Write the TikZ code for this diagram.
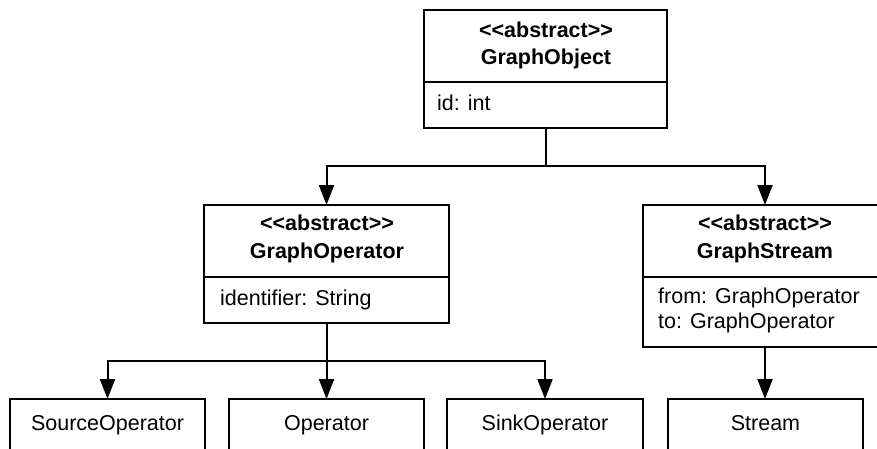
\documentclass[tikz,border=0pt]{standalone}
\usepackage{fontspec}
\setmainfont{Liberation Sans}
\usetikzlibrary{arrows.meta}
\begin{document}
\begin{tikzpicture}[x=1pt,y=-1pt,
  umlbox/.style={draw, line width=2.2pt, inner sep=0pt, outer sep=0pt, anchor=north west},
  divider/.style={line width=2.2pt},
  title/.style={anchor=base, inner sep=0pt, font=\bfseries\fontsize{21.5}{27}\selectfont},
  attr/.style={anchor=base west, inner sep=0pt, font=\fontsize{21.5}{27}\selectfont},
  label/.style={anchor=base, inner sep=0pt, font=\fontsize{21.5}{27}\selectfont},
  inherit/.style={line width=2pt, -{Triangle[length=20pt,width=15pt]}}]
\clip (0,0) rectangle (877,448);

% class boxes
\node[umlbox, minimum width=243pt, minimum height=118pt] (obj) at (424,10) {};
\node[umlbox, minimum width=245pt, minimum height=118pt] (gop) at (204,205) {};
\node[umlbox, minimum width=244pt, minimum height=142pt] (gst) at (643,205) {};
\node[umlbox, minimum width=195pt, minimum height=70pt] (src) at (10,399) {};
\node[umlbox, minimum width=195pt, minimum height=70pt] (op) at (229,399) {};
\node[umlbox, minimum width=196pt, minimum height=70pt] (sink) at (447,399) {};
\node[umlbox, minimum width=195pt, minimum height=70pt] (stream) at (668,399) {};

% compartment dividers
\draw[divider] (obj.west |- 0,82) -- (obj.east |- 0,82);
\draw[divider] (gop.west |- 0,277) -- (gop.east |- 0,277);
\draw[divider] (gst.west |- 0,277) -- (gst.east |- 0,277);

% class names and stereotypes
\node[title] (objst) at (546,37) {<\kern0pt<abstract>\kern0pt>};
\node[title] (objnm) at (546,64) {GraphObject};
\node[attr] (objid) at (437,110) {id: int};

\node[title] (gopst) at (327,230) {<\kern0pt<abstract>\kern0pt>};
\node[title] (gopnm) at (327,258) {GraphOperator};
\node[attr] (gopid) at (220,305) {identifier: String};

\node[title] (gstst) at (765,230) {<\kern0pt<abstract>\kern0pt>};
\node[title] (gstnm) at (765,258) {GraphStream};
\node[attr] (gstfr) at (658,303) {from: GraphOperator};
\node[attr] (gstto) at (658,328) {to: GraphOperator};

\node[label] (srcl) at (107.5,430) {SourceOperator};
\node[label] (opl) at (326.5,430) {Operator};
\node[label] (sinkl) at (545,430) {SinkOperator};
\node[label] (streaml) at (765.5,430) {Stream};

% generalisation connectors
\draw[inherit] (obj.south) -- ++(0,38) -| (gop.north);
\draw[inherit] (obj.south) -- ++(0,38) -| (gst.north);
\draw[inherit] (gop.south) -- ++(0,38) -| (src.north);
\draw[inherit] (gop.south) -- (op.north);
\draw[inherit] (gop.south) -- ++(0,38) -| (sink.north);
\draw[inherit] (gst.south) -- (gst.south |- stream.north);
\end{tikzpicture}
\end{document}
